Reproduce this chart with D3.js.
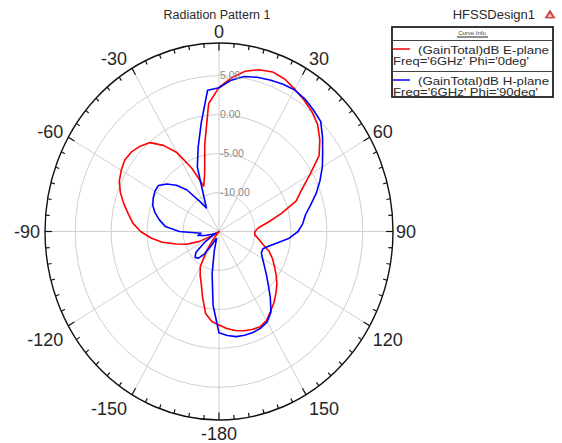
<!DOCTYPE html>
<html>
<head>
<meta charset="utf-8">
<script src="https://cdn.jsdelivr.net/npm/d3@7/dist/d3.min.js"></script>
<style>
  html, body { margin: 0; padding: 0; background: #ffffff; }
  svg { display: block; font-family: "Liberation Sans", Arial, sans-serif; }
</style>
</head>
<body>
<svg id="chart" width="562" height="443"></svg>
<script>
// Polar angles (deg), 0 at top, clockwise positive
const angles = [-180,-175,-170,-165,-160,-155,-150,-145,-140,-135,-130,-125,-120,-115,-110,-105,-100,-95,-90,-85,-80,-75,-70,-65,-60,-55,-50,-45,-40,-35,-30,-25,-20,-15,-10,-5,0,5,10,15,20,25,30,35,40,45,50,55,60,65,70,75,80,85,90,95,100,105,110,115,120,125,130,135,140,145,150,155,160,165,170,175,180];

// GainTotal (dB), E-plane cut (Phi = 0deg)
const gainEPlane = [-3.0,-3.4,-4.3,-6.2,-7.8,-8.8,-9.8,-12.0,-14.0,-15.0,-15.0,-15.0,-14.0,-12.0,-10.2,-8.8,-7.0,-5.5,-4.1,-3.0,-2.2,-1.3,-0.4,0.3,0.7,1.0,0.9,0.5,-0.1,-1.5,-3.3,-6.0,-8.8,-7.3,-3.6,1.5,3.5,4.8,5.9,6.5,6.8,6.6,6.1,5.6,5.1,4.4,3.3,2.0,-0.4,-2.3,-3.6,-6.0,-8.0,-9.5,-10.0,-10.0,-9.4,-8.7,-7.6,-6.8,-6.1,-5.3,-4.5,-3.8,-3.1,-2.5,-1.8,-1.5,-1.6,-1.8,-2.1,-2.5,-3.0];

// GainTotal (dB), H-plane cut (Phi = 90deg)
const gainHPlane = [-2.0,-5.5,-9.5,-12.5,-14.0,-14.0,-13.0,-11.5,-10.5,-10.3,-10.8,-12.5,-14.0,-14.5,-14.0,-13.0,-12.0,-12.5,-9.5,-7.5,-6.6,-5.8,-5.2,-4.9,-4.7,-4.7,-5.5,-6.6,-8.0,-10.2,-11.5,-10.0,-6.2,-3.8,-0.8,3.2,3.45,4.5,5.2,5.5,5.7,5.9,6.0,5.8,5.4,5.0,3.8,2.6,1.6,0.5,-0.6,-1.8,-2.8,-3.3,-4.0,-5.2,-6.7,-7.8,-8.5,-8.5,-8.0,-7.3,-6.4,-5.3,-3.9,-2.4,-1.6,-1.3,-1.2,-1.2,-1.3,-1.6,-2.0];

const radialTicks = [-10, -5, 0, 5];
const radialTickLabels = ["-10.00", "-5.00", "0.00", "5.00"];
const angleLabelValues = [0, 30, 60, 90, 120, 150, 180, -150, -120, -90, -60, -30];
const angleLabelTexts = ["0", "30", "60", "90", "120", "150", "-180", "-150", "-120", "-90", "-60", "-30"];

const titleText = "Radiation Pattern 1";
const designText = "HFSSDesign1";
const legendHeader = "Curve Info";
const seriesNames = ["(GainTotal)dB E-plane", "(GainTotal)dB H-plane"];
const seriesSubs = ["Freq='6GHz' Phi='0deg'", "Freq='6GHz' Phi='90deg'"];
const seriesColors = ["#ff0000", "#0000ff"];

// ---- layout ----
const svg = d3.select("#chart");
const cx = 219, cy = 231.5;
const rx = 174, ry = 188.5;           // the plot is drawn slightly stretched vertically
const yStretch = ry / rx;

const rScale = d3.scaleLinear().domain([-15, 9.2]).range([0, rx]).clamp(true);
const toRad = d => d * Math.PI / 180;

// point on the (elliptical) polar frame
function polarXY(deg, r) {
  const a = toRad(deg);
  return [cx + r * Math.sin(a), cy - r * yStretch * Math.cos(a)];
}

// group that carries the polar geometry; strokes keep their own width
const polar = svg.append("g")
  .attr("transform", `translate(${cx},${cy}) scale(1,${yStretch})`);

// grid circles
polar.selectAll("circle.grid")
  .data(radialTicks)
  .join("circle")
  .attr("class", "grid")
  .attr("r", d => rScale(d))
  .attr("fill", "none")
  .attr("stroke", "#cfcfcf")
  .attr("stroke-width", 1)
  .attr("vector-effect", "non-scaling-stroke");

// spokes every 30 degrees
polar.selectAll("line.spoke")
  .data(d3.range(0, 360, 30))
  .join("line")
  .attr("class", "spoke")
  .attr("x1", 0).attr("y1", 0)
  .attr("x2", d => rx * Math.sin(toRad(d)))
  .attr("y2", d => -rx * Math.cos(toRad(d)))
  .attr("stroke", "#cfcfcf")
  .attr("stroke-width", 1)
  .attr("vector-effect", "non-scaling-stroke");

// traces
const radial = d3.lineRadial()
  .angle(d => toRad(d[0]))
  .radius(d => rScale(d[1]))
  .curve(d3.curveLinearClosed);

[gainEPlane, gainHPlane].forEach((vals, i) => {
  const pts = angles.slice(0, -1).map((a, k) => [a, vals[k]]);
  polar.append("path")
    .attr("d", radial(pts))
    .attr("fill", "none")
    .attr("stroke", seriesColors[i])
    .attr("stroke-width", 1.6)
    .attr("stroke-linejoin", "round")
    .attr("vector-effect", "non-scaling-stroke");
});

// outer frame
polar.append("circle")
  .attr("r", rx)
  .attr("fill", "none")
  .attr("stroke", "#111")
  .attr("stroke-width", 1.4)
  .attr("vector-effect", "non-scaling-stroke");

// angular ticks (inward), longer every 30 degrees
svg.append("g").selectAll("line")
  .data(d3.range(0, 360, 5))
  .join("line")
  .attr("x1", d => polarXY(d, rx)[0])
  .attr("y1", d => polarXY(d, rx)[1])
  .attr("x2", d => polarXY(d, rx - (d % 30 === 0 ? 7 : 4))[0])
  .attr("y2", d => polarXY(d, rx - (d % 30 === 0 ? 7 : 4))[1])
  .attr("stroke", "#111")
  .attr("stroke-width", 1.2);

// radial tick labels along the 0-degree spoke
svg.append("g").selectAll("text")
  .data(radialTicks)
  .join("text")
  .attr("x", cx + 1)
  .attr("y", d => cy - rScale(d) * yStretch + 3.5)
  .attr("font-size", 10.5)
  .attr("fill", "#8a8a8a")
  .text((d, i) => radialTickLabels[i]);

// angle labels outside the frame
svg.append("g").selectAll("text")
  .data(angleLabelValues)
  .join("text")
  .each(function (d, i) {
    const [x, y] = polarXY(d, rx);
    const s = Math.sin(toRad(d)), c = Math.cos(toRad(d));
    const anchor = s > 0.05 ? "start" : (s < -0.05 ? "end" : "middle");
    const dx = s > 0.05 ? 3 : (s < -0.05 ? -5 : 0);
    let ty;
    if (c > 0.05) ty = y + 6.5 - 11.5 * c;
    else if (c < -0.05) ty = y + (c < -0.99 ? 20 : 20.5);
    else ty = y + 6.5;
    d3.select(this)
      .attr("x", x + dx)
      .attr("y", ty)
      .attr("text-anchor", anchor)
      .attr("font-size", 18)
      .attr("fill", "#262626")
      .text(angleLabelTexts[i]);
  });

// title
svg.append("text")
  .attr("x", 217).attr("y", 19)
  .attr("text-anchor", "middle")
  .attr("font-size", 12.5)
  .attr("fill", "#2a2a2a")
  .text(titleText);

svg.append("text")
  .attr("x", 535).attr("y", 19)
  .attr("text-anchor", "end")
  .attr("font-size", 13)
  .attr("fill", "#2a2a2a")
  .text(designText);

// small product glyph
svg.append("path")
  .attr("d", "M550,10 L555,18 L545,18 Z")
  .attr("fill", "#d84a4a")
  .attr("stroke", "#b03030")
  .attr("stroke-width", 0.6);
svg.append("path")
  .attr("d", "M550,13.5 L552.4,17 L547.6,17 Z")
  .attr("fill", "#f6d0d0");

// legend
const lg = svg.append("g");
lg.append("rect")
  .attr("x", 392).attr("y", 27)
  .attr("width", 161).attr("height", 70)
  .attr("fill", "#ffffff")
  .attr("stroke", "#222")
  .attr("stroke-width", 1.8);
lg.append("text")
  .attr("x", 472).attr("y", 35)
  .attr("text-anchor", "middle")
  .attr("font-size", 6)
  .attr("fill", "#444")
  .text(legendHeader);
lg.append("line")
  .attr("x1", 457).attr("x2", 488).attr("y1", 37).attr("y2", 37)
  .attr("stroke", "#222").attr("stroke-width", 1);
lg.append("line")
  .attr("x1", 392).attr("x2", 553).attr("y1", 40.5).attr("y2", 40.5)
  .attr("stroke", "#444").attr("stroke-width", 1);
lg.append("line")
  .attr("x1", 392).attr("x2", 553).attr("y1", 71.5).attr("y2", 71.5)
  .attr("stroke", "#444").attr("stroke-width", 1);

const rowY = [50, 81];
seriesNames.forEach((name, i) => {
  lg.append("line")
    .attr("x1", 393).attr("x2", 410)
    .attr("y1", rowY[i] - 1).attr("y2", rowY[i] - 1)
    .attr("stroke", seriesColors[i]).attr("stroke-width", 1.5);
  lg.append("text")
    .attr("x", 418).attr("y", rowY[i] + 3.5)
    .attr("font-size", 11.5)
    .attr("fill", "#2a2a2a")
    .attr("textLength", 131)
    .attr("lengthAdjust", "spacingAndGlyphs")
    .text(name);
  lg.append("text")
    .attr("x", 393).attr("y", rowY[i] + 15)
    .attr("font-size", 11.5)
    .attr("fill", "#2a2a2a")
    .attr("textLength", i === 0 ? 136 : 145)
    .attr("lengthAdjust", "spacingAndGlyphs")
    .text(seriesSubs[i]);
});
</script>
</body>
</html>
